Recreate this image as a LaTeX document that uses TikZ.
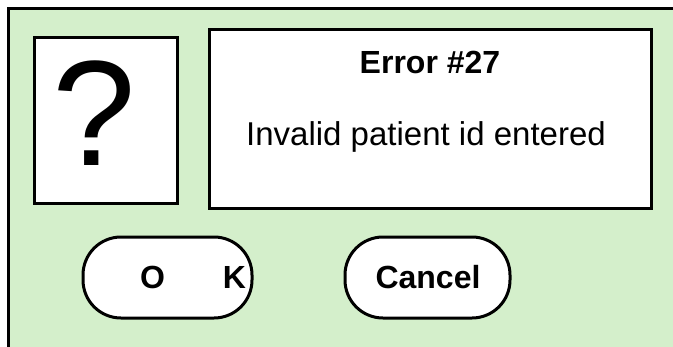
\documentclass[tikz,border=0pt]{standalone}
\usepackage{fontspec}
\setmainfont{Liberation Sans}
\definecolor{panelgreen}{RGB}{212,239,203}
\begin{document}
\begin{tikzpicture}[x=1pt,y=-1pt,
  box/.style={draw=black,line width=3pt,fill=white},
  btn/.style={draw=black,line width=3pt,fill=white,rounded corners=38pt},
  txt/.style={font=\fontsize{33}{38}\selectfont},
  btxt/.style={font=\bfseries\fontsize{32}{38}\selectfont}]
\useasboundingbox (0,0) rectangle (673,346);
\begin{scope}
\clip (0,0) rectangle (673,346);
\fill[white] (0,0) rectangle (673,346);
\fill[panelgreen] (8,8) rectangle (680,350);
\draw[line width=3pt] (8,350) -- (8,8) -- (680,8);
\end{scope}
\draw[box] (34,37) rectangle (177,203);
\node[font=\fontsize{150}{155}\selectfont] (q) at (94,113) {?};
\draw[box] (209,29) rectangle (651,208);
\node[btxt] (err) at (430,62) {Error \#27};
\node[txt] (msg) at (426,137) {Invalid patient id entered};
\draw[btn] (83,237) rectangle (252,318);
\node[btxt] (ok) at (193,277) {O\hspace{58pt}K};
\draw[btn] (345,237) rectangle (510,318);
\node[btxt] (cancel) at (428,277) {Cancel};
\end{tikzpicture}
\end{document}
